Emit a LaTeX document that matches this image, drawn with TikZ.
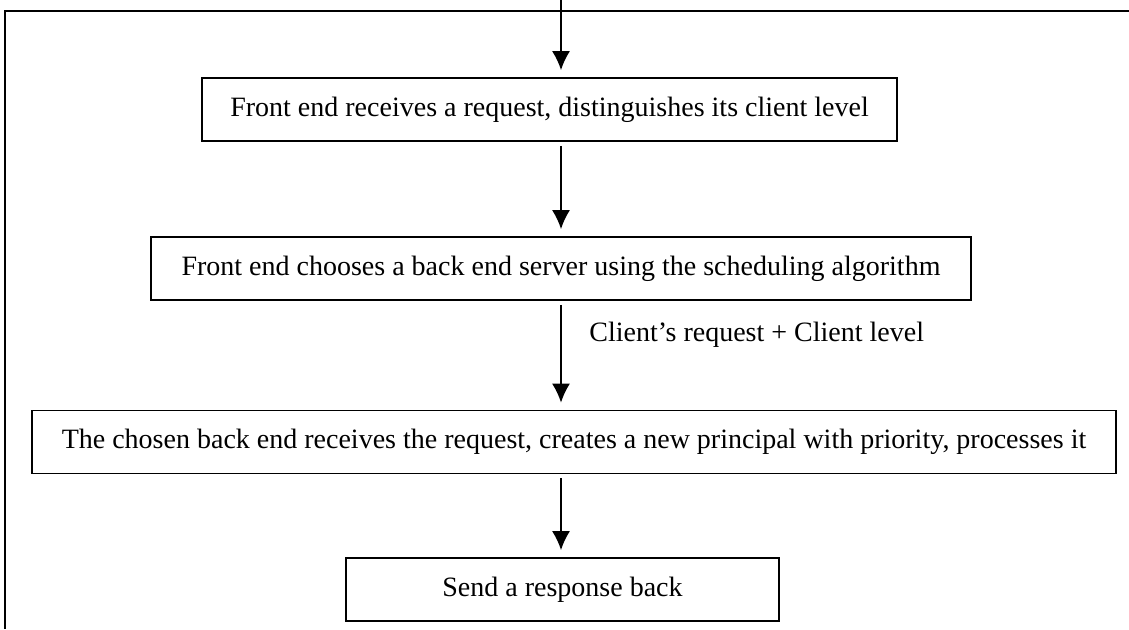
\documentclass[tikz,border=0pt]{standalone}
\usepackage{fontspec}
\setmainfont{Liberation Serif}
\usepackage{tikz}
\usetikzlibrary{arrows.meta}

\begin{document}
\begin{tikzpicture}[x=0.5pt,y=-0.5pt]
\tikzset{>={Latex[width=9pt,length=9.5pt]}}
\tikzstyle{stepbox}=[draw,line width=0.9pt,inner sep=0pt,minimum height=31.5pt,font=\fontsize{14}{16}\selectfont]
\tikzstyle{flow}=[->,line width=0.8pt,shorten <=2pt,shorten >=3.5pt]
\useasboundingbox (0,0) rectangle (1129,629);
% outer frame (only top and left edge visible)
\draw[line width=0.8pt] (1129,11) -- (5,11) -- (5,629);
\coordinate (spine) at (561,0);
\node[stepbox,minimum width=347.5pt](s1) at (549.5,109.5){Front end receives a request, distinguishes its client level};
\node[stepbox,minimum width=410pt](s2) at (561,268.5){Front end chooses a back end server using the scheduling algorithm};
\node[stepbox,minimum width=542pt](s3) at (574,442){The chosen back end receives the request, creates a new principal with priority, processes it};
\node[stepbox,minimum width=216.5pt](s4) at (562.5,589.5){Send a response back};
\node[anchor=west,inner sep=0pt,font=\fontsize{14}{16}\selectfont](info) at (589,335){Client’s request + Client level};
\draw [flow,shorten <=0pt] (spine) -- (s1.north -| spine);
\draw [flow] (s1.south -| spine) -- (s2.north -| spine);
\draw [flow] (s2.south -| spine) -- (s3.north -| spine);
\draw [flow] (s3.south -| spine) -- (s4.north -| spine);
\end{tikzpicture}
\end{document}
